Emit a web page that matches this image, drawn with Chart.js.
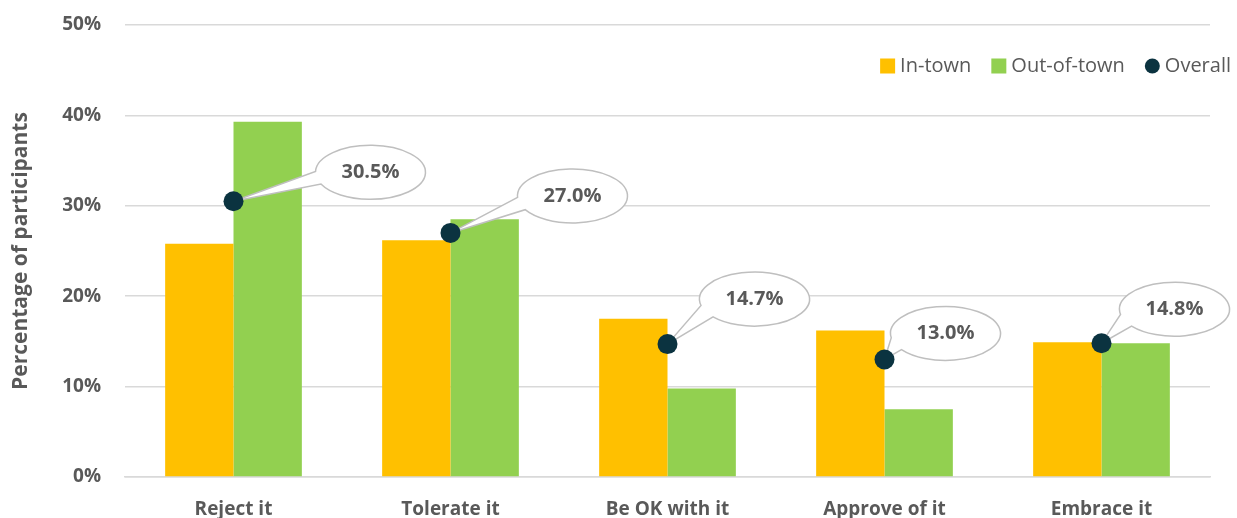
<!DOCTYPE html>
<html lang="en">
<head>
  <meta charset="utf-8">
  <title>Percentage of participants</title>
  <script src="https://cdn.jsdelivr.net/npm/chart.js@4.4.1/dist/chart.umd.min.js"></script>
  <style>
    html, body { margin: 0; padding: 0; background: #fff; }
    #wrap { width: 1237px; height: 518px; position: relative; }
  </style>
</head>
<body>
<div id="wrap"><canvas id="chart"></canvas></div>
<script>
// data
var categories = ['Reject it', 'Tolerate it', 'Be OK with it', 'Approve of it', 'Embrace it'];
var inTown     = [25.8, 26.2, 17.5, 16.2, 14.9];
var outOfTown  = [39.3, 28.5, 9.8, 7.5, 14.8];
var overall    = [30.5, 27.0, 14.7, 13.0, 14.8];
var yTicks     = [0, 10, 20, 30, 40, 50];

var TEXT = '#595959';
var FONT = '"Open Sans", Lato, sans-serif';

// where each callout bubble sits relative to its point (px)
var bubbleOffsets = [[137, -29], [122, -37], [87, -45], [61, -26], [73, -34]];

var calloutPlugin = {
  id: 'callouts',
  beforeDatasetDraw: function(chart, args) {
    if (args.index !== 2) return;
    var ctx = chart.ctx;
    var meta = chart.getDatasetMeta(2);
    ctx.save();
    meta.data.forEach(function(pt, i) {
      var px = pt.x, py = pt.y;
      var cx = px + bubbleOffsets[i][0], cy = py + bubbleOffsets[i][1];
      var rx = 55, ry = 27;
      // wedge base points on ellipse facing the point
      var ang = Math.atan2(py - cy, px - cx);
      var a1 = ang - 0.24, a2 = ang + 0.24;
      ctx.beginPath();
      ctx.ellipse(cx, cy, rx, ry, 0, a2, a1 + Math.PI * 2, false);
      ctx.lineTo(px, py);
      ctx.closePath();
      ctx.fillStyle = '#ffffff';
      ctx.fill();
      ctx.strokeStyle = '#bfbfbf';
      ctx.lineWidth = 1.5;
      ctx.stroke();
      ctx.fillStyle = TEXT;
      ctx.font = 'bold 20px ' + FONT;
      ctx.textAlign = 'center';
      ctx.textBaseline = 'middle';
      ctx.fillText(overall[i].toFixed(1) + '%', cx, cy);
    });
    ctx.restore();
  },
  afterDraw: function(chart) {
    // legend, top right
    var ctx = chart.ctx;
    ctx.save();
    ctx.font = '20px ' + FONT;
    ctx.textBaseline = 'middle';
    ctx.textAlign = 'left';
    var items = chart.data.datasets.map(function(d) { return { label: d.label, color: d.backgroundColor, dot: d.type === 'line' }; });
    var y = 66, x = 1231;
    var widths = items.map(function(it) { return 15 + 5 + ctx.measureText(it.label).width; });
    var total = widths.reduce(function(a, b) { return a + b; }, 0) + 20 * (items.length - 1);
    x -= total;
    items.forEach(function(it, i) {
      ctx.fillStyle = it.color;
      if (it.dot) {
        ctx.beginPath();
        ctx.arc(x + 7.5, y, 7.5, 0, Math.PI * 2);
        ctx.fill();
      } else {
        ctx.fillRect(x, y - 7.5, 15, 15);
      }
      ctx.fillStyle = TEXT;
      ctx.fillText(it.label, x + 20, y);
      x += widths[i] + 20;
    });
    ctx.restore();
  }
};

new Chart(document.getElementById('chart').getContext('2d'), {
  type: 'bar',
  data: {
    labels: categories,
    datasets: [
      { label: 'In-town', data: inTown, backgroundColor: '#ffc000', order: 2,
        categoryPercentage: 0.63, barPercentage: 1.0 },
      { label: 'Out-of-town', data: outOfTown, backgroundColor: '#92d050', order: 2,
        categoryPercentage: 0.63, barPercentage: 1.0 },
      { label: 'Overall', type: 'line', data: overall, showLine: false, order: 0,
        backgroundColor: '#0b3340', borderColor: '#0b3340',
        pointRadius: 10, pointHoverRadius: 10, pointBorderWidth: 0 }
    ]
  },
  options: {
    responsive: true,
    maintainAspectRatio: false,
    animation: false,
    layout: { padding: { top: 25, right: 27, left: 0, bottom: 0 } },
    plugins: { legend: { display: false }, tooltip: { enabled: false } },
    scales: {
      x: {
        grid: { display: false },
        border: { color: '#d9d9d9', width: 1.5 },
        ticks: { color: TEXT, font: { family: FONT, size: 19, weight: 'bold' }, padding: 13 },
        afterFit: function(s) { s.height = 41; s.paddingLeft = 0; s.paddingRight = 0; }
      },
      y: {
        min: 0, max: 50,
        afterBuildTicks: function(s) { s.ticks = yTicks.map(function(v) { return { value: v }; }); },
        grid: { color: '#d9d9d9', lineWidth: 1.5, drawTicks: false },
        border: { display: false },
        ticks: { color: TEXT, font: { family: FONT, size: 19, weight: 'bold' }, padding: 24,
          callback: function(v) { return v + '%'; } },
        title: { display: true, text: 'Percentage of participants', color: TEXT,
          font: { family: FONT, size: 21, weight: 'bold' }, padding: { top: 8, bottom: 0 } },
        afterFit: function(s) { s.width = 125; s.paddingTop = 0; s.paddingBottom = 0; }
      }
    }
  },
  plugins: [calloutPlugin]
});
</script>
</body>
</html>
